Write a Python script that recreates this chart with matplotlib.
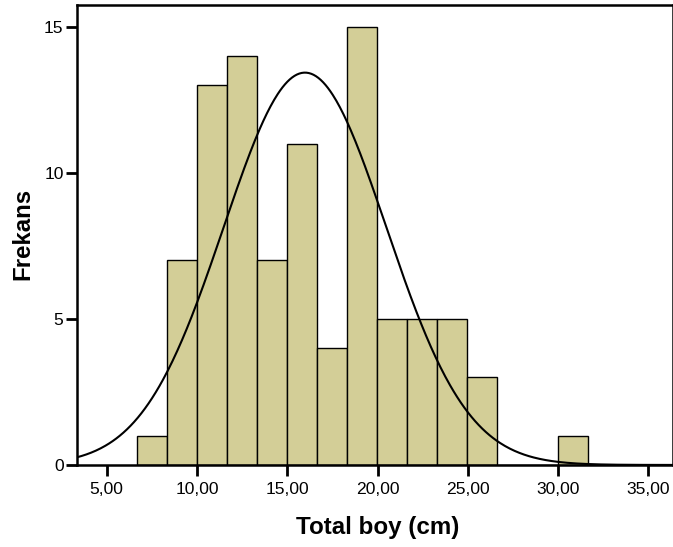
import numpy as np
import matplotlib
matplotlib.use("Agg")
import matplotlib.pyplot as plt

# data
bin_start = 6.66
bin_width = 1.665
counts = [1, 7, 13, 14, 7, 11, 4, 15, 5, 5, 5, 3, 0, 0, 1]
curve_mean = 15.98
curve_sd = 4.5
x_ticks = [5, 10, 15, 20, 25, 30, 35]
x_tick_labels = ["5,00", "10,00", "15,00", "20,00", "25,00", "30,00", "35,00"]
y_ticks = [0, 5, 10, 15]
x_label = "Total boy (cm)"
y_label = "Frekans"

plt.rcParams['font.family'] = ['Liberation Sans', 'DejaVu Sans']

fig = plt.figure(figsize=(6.73, 5.47), dpi=100)
ax = fig.add_axes([0.114, 0.150, 0.886, 0.841])

edges = bin_start + bin_width * np.arange(len(counts) + 1)
ax.bar(edges[:-1], counts, width=bin_width, align='edge',
       color='#D3CE97', edgecolor='black', linewidth=1.0, zorder=2)

N = sum(counts)
xs = np.linspace(3.34, 36.4, 500)
ys = N * bin_width / (curve_sd * np.sqrt(2 * np.pi)) * np.exp(-0.5 * ((xs - curve_mean) / curve_sd) ** 2)
ax.plot(xs, ys, color='black', linewidth=1.5, zorder=3)

ax.set_xlim(3.34, 36.36)
ax.set_ylim(0, 15.75)
ax.set_xticks(x_ticks)
ax.set_xticklabels(x_tick_labels)
ax.set_yticks(y_ticks)
ax.tick_params(direction='out', length=8, width=2, labelsize=12.6)
ax.tick_params(axis='x', pad=4)
ax.tick_params(axis='y', pad=1.5)
for s in ax.spines.values():
    s.set_linewidth(1.8)

ax.set_xlabel(x_label, fontsize=17.4, fontweight='bold')
ax.xaxis.label.set_va('center')
ax.xaxis.set_label_coords(0.504, -0.135)
ax.set_ylabel(y_label, fontsize=17.3, fontweight='bold')
ax.yaxis.label.set_va('center')
ax.yaxis.set_label_coords(-0.090, 0.502)

fig.savefig("out.png", dpi=100)
